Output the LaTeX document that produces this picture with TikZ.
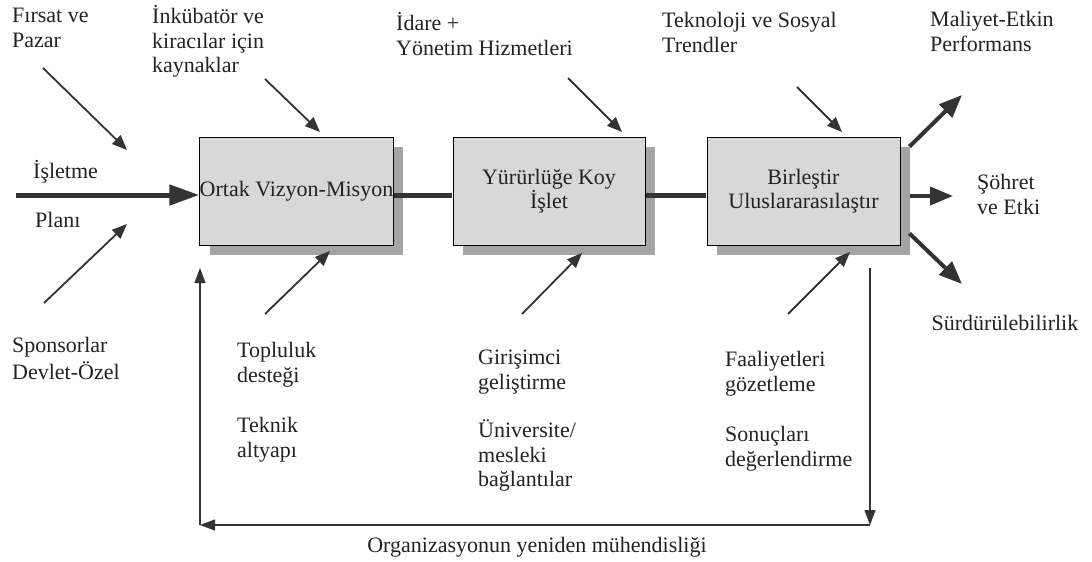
\documentclass[tikz,border=0pt]{standalone}
\usepackage{fontspec}
\setmainfont{Liberation Serif}
\usetikzlibrary{arrows.meta,shadows}
\newcommand\lblfont{\fontsize{22}{24.5}\selectfont}
\definecolor{boxfill}{HTML}{D8D8D8}
\definecolor{shadowgray}{HTML}{A4A4A4}
\definecolor{ink}{HTML}{222222}
\definecolor{linegray}{HTML}{333333}
\tikzset{
  lbl/.style={anchor=north west, align=left, inner sep=0pt, font=\lblfont, text=ink},
  lblone/.style={anchor=base west, inner sep=0pt, font=\lblfont, text=ink},
  procbox/.style={draw=black, line width=0.9pt, fill=boxfill, minimum width=193pt, minimum height=108pt,
    align=center, font=\lblfont, text=ink, inner sep=0pt,
    drop shadow={shadow xshift=10pt, shadow yshift=-10pt, fill=shadowgray, opacity=1}},
  thin arrow/.style={draw=linegray, line width=1.8pt, -{Triangle[length=15pt,width=12pt]}},
  thick link/.style={draw=linegray, line width=5pt},
  thick arrow/.style={draw=linegray, line width=5pt, -{Triangle[length=30pt,width=20pt]}},
  out arrow/.style={draw=linegray, line width=4pt, -{Triangle[length=23pt,width=18pt]}},
  fb arrow/.style={draw=linegray, line width=1.3pt, -{Triangle[length=15pt,width=11pt]}},
}
\begin{document}
\begin{tikzpicture}[x=1pt,y=-1pt]
\useasboundingbox (0,0) rectangle (1092,562);

% process boxes
\node[procbox] (b1) at (296.5,191) {Ortak Vizyon-Misyon};
\node[procbox, minimum width=192pt] (b2) at (549,191) {Yürürlüğe Koy\\İşlet};
\node[procbox] (b3) at (803.5,191) {Birleştir\\Uluslararasılaştır};

% main line
\coordinate (inStart) at (16,195);
\draw[thick arrow] (inStart) -- ([yshift=-4pt]b1.west);
\draw[thick link] ([xshift=0.5pt,yshift=-4pt]b1.east) -- ([xshift=-0.5pt,yshift=-4pt]b2.west);
\draw[thick link] ([xshift=0.5pt,yshift=-4pt]b2.east) -- ([xshift=-0.5pt,yshift=-4pt]b3.west);

% labels top
\node[lbl] (fp) at (12,5.5) {\strut Fırsat ve\\Pazar};
\node[lbl] (ink) at (152,5.5) {\strut İnkübatör ve\\kiracılar için\\kaynaklar};
\node[lbl] (idare) at (396,12.5) {\strut İdare +\\Yönetim Hizmetleri};
\node[lbl] (tek) at (662,10.5) {\strut Teknoloji ve Sosyal\\Trendler};
\node[lbl] (mal) at (930,9.5) {\strut Maliyet-Etkin\\Performans};
\node[lblone] (isl) at (33,178) {İşletme};
\node[lblone] (plan) at (35,227) {Planı};
\node[lbl] (soh) at (977,172.5) {\strut Şöhret\\ve Etki};
\node[lblone, anchor=base] (surd) at (1005,330) {Sürdürülebilirlik};

% labels bottom
\node[lbl] (spons) at (12,335.5) {\strut Sponsorlar\\Devlet-Özel};
\node[lbl] (topl) at (237,340.5) {\strut Topluluk\\desteği};
\node[lbl] (tekn) at (237,415.5) {\strut Teknik\\altyapı};
\node[lbl] (gir) at (478,347.5) {\strut Girişimci\\geliştirme};
\node[lbl] (uni) at (478,419.5) {\strut Üniversite/\\mesleki\\bağlantılar};
\node[lbl] (faal) at (725,349.5) {\strut Faaliyetleri\\gözetleme};
\node[lbl] (son) at (725,424.5) {\strut Sonuçları\\değerlendirme};

% incoming diagonal arrows (top)
\coordinate (a1s) at (43,68);   \coordinate (a1e) at (127,150);
\coordinate (a2s) at (265,79);  \coordinate (a2e) at (320,132);
\coordinate (a3s) at (568,78);  \coordinate (a3e) at (622,132);
\coordinate (a4s) at (797,87);  \coordinate (a4e) at (842,132);
\draw[thin arrow] (a1s) -- (a1e);
\draw[thin arrow] (a2s) -- (a2e);
\draw[thin arrow] (a3s) -- (a3e);
\draw[thin arrow] (a4s) -- (a4e);

% incoming diagonal arrows (bottom)
\coordinate (c1s) at (44,303);  \coordinate (c1e) at (127,224);
\coordinate (c2s) at (265,314); \coordinate (c2e) at (330,251);
\coordinate (c3s) at (522,314); \coordinate (c3e) at (582,253);
\coordinate (c4s) at (788,314); \coordinate (c4e) at (850,252);
\draw[thin arrow] (c1s) -- (c1e);
\draw[thin arrow] (c2s) -- (c2e);
\draw[thin arrow] (c3s) -- (c3e);
\draw[thin arrow] (c4s) -- (c4e);

% output arrows
\coordinate (o1e) at (962,95);
\coordinate (o2e) at (953,196);
\coordinate (o3e) at (962,284);
\draw[out arrow] ([shift={(9pt,-10pt)}]b3.north east) -- (o1e);
\draw[out arrow] ([shift={(10pt,-5pt)}]b3.east) -- (o2e);
\draw[out arrow] ([shift={(9pt,12pt)}]b3.south east) -- (o3e);

% feedback loop
\coordinate (fbR) at (870,268);
\coordinate (fbBR) at (870,525);
\coordinate (fbBL) at (200,525);
\coordinate (fbL) at (200,268);
\draw[fb arrow] (fbR) -- (fbBR);
\draw[fb arrow] (fbBR) -- (fbBL);
\draw[fb arrow] (fbBL) -- (fbL);
\node[lblone, anchor=base] (org) at (537,552) {Organizasyonun yeniden mühendisliği};
\end{tikzpicture}
\end{document}
